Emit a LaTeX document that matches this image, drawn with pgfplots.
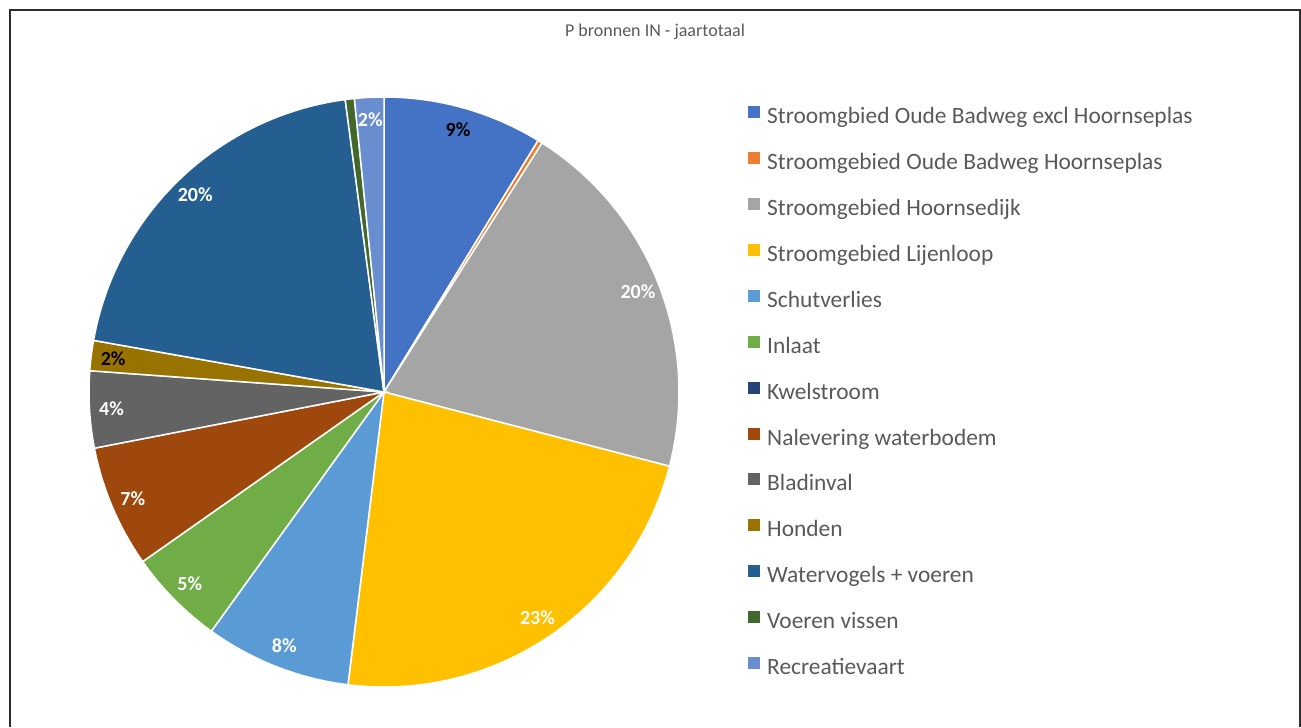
\documentclass[border=0pt]{standalone}
\usepackage{pgfplots}
\pgfplotsset{compat=1.18}
\usepackage{fontspec}
\setmainfont{Carlito}
\definecolor{c1}{HTML}{4472C4}
\definecolor{c2}{HTML}{ED7D31}
\definecolor{c3}{HTML}{A5A5A5}
\definecolor{c4}{HTML}{FFC000}
\definecolor{c5}{HTML}{5B9BD5}
\definecolor{c6}{HTML}{70AD47}
\definecolor{c7}{HTML}{264478}
\definecolor{c8}{HTML}{9E480E}
\definecolor{c9}{HTML}{636363}
\definecolor{c10}{HTML}{997300}
\definecolor{c11}{HTML}{255E91}
\definecolor{c12}{HTML}{43682B}
\definecolor{c13}{HTML}{698ED0}
\definecolor{txt}{HTML}{595959}
\definecolor{frame}{HTML}{2E2E2E}
% slice: colour, start (%), value (%), label, label colour
\newcommand\slice[5]{%
  \addplot[fill=#1, draw=white, line width=1.5pt, domain=#2:#2+#3, samples=60, variable=\t]
    ({384+295*sin(3.6*\t)}, {392-295*cos(3.6*\t)}) -- (axis cs:384,392) -- cycle;
  \node[font=\bfseries\fontsize{20}{24}\selectfont, text=#5]
    at (axis cs:{384+273*sin(3.6*(#2+#3/2))},{392-273*cos(3.6*(#2+#3/2))}) {#4};
}
\begin{document}
\begin{tikzpicture}
\begin{axis}[
  width=1301pt, height=727pt, scale only axis,
  xmin=0, xmax=1301, ymin=0, ymax=727, y dir=reverse,
  hide axis, clip=false,
  legend style={at={(axis cs:748,106)}, anchor=north west, draw=none, fill=none,
    inner sep=0pt, column sep=7pt, row sep=23.4pt,
    font=\fontsize{23.4}{27}\selectfont,
    nodes={inner sep=0pt, text height=16pt, text depth=5pt, text=txt}},
  legend cell align=left,
  legend image code/.code={\fill[#1, draw=none] (0pt,0pt) rectangle (12pt,12pt);},
]
\path (axis cs:0,0) rectangle (axis cs:1301,727);
\slice{c1}{0}{8.75}{9\%}{black}
\addlegendentry{Stroomgbied Oude Badweg excl Hoornseplas}
\slice{c2}{8.75}{0.25}{}{white}
\addlegendentry{Stroomgebied Oude Badweg Hoornseplas}
\slice{c3}{9.0}{20.05}{20\%}{white}
\addlegendentry{Stroomgebied Hoornsedijk}
\slice{c4}{29.05}{22.9}{23\%}{white}
\addlegendentry{Stroomgebied Lijenloop}
\slice{c5}{51.95}{8.0}{8\%}{white}
\addlegendentry{Schutverlies}
\slice{c6}{59.95}{5.3}{5\%}{white}
\addlegendentry{Inlaat}
\addlegendimage{fill=c7}
\addlegendentry{Kwelstroom}
\slice{c8}{65.25}{6.7}{7\%}{white}
\addlegendentry{Nalevering waterbodem}
\slice{c9}{71.95}{4.2}{4\%}{white}
\addlegendentry{Bladinval}
\slice{c10}{76.15}{1.65}{2\%}{black}
\addlegendentry{Honden}
\slice{c11}{77.8}{20.1}{20\%}{white}
\addlegendentry{Watervogels + voeren}
\slice{c12}{97.9}{0.5}{}{white}
\addlegendentry{Voeren vissen}
\slice{c13}{98.4}{1.6}{2\%}{white}
\addlegendentry{Recreatievaart}
\node[font=\fontsize{18}{22}\selectfont, text=txt] at (axis cs:655,32) {P bronnen IN - jaartotaal};
\draw[frame, line width=2pt] (axis cs:10,727) -- (axis cs:10,10) -- (axis cs:1299.5,10) -- (axis cs:1299.5,727);
\end{axis}
\end{tikzpicture}
\end{document}
